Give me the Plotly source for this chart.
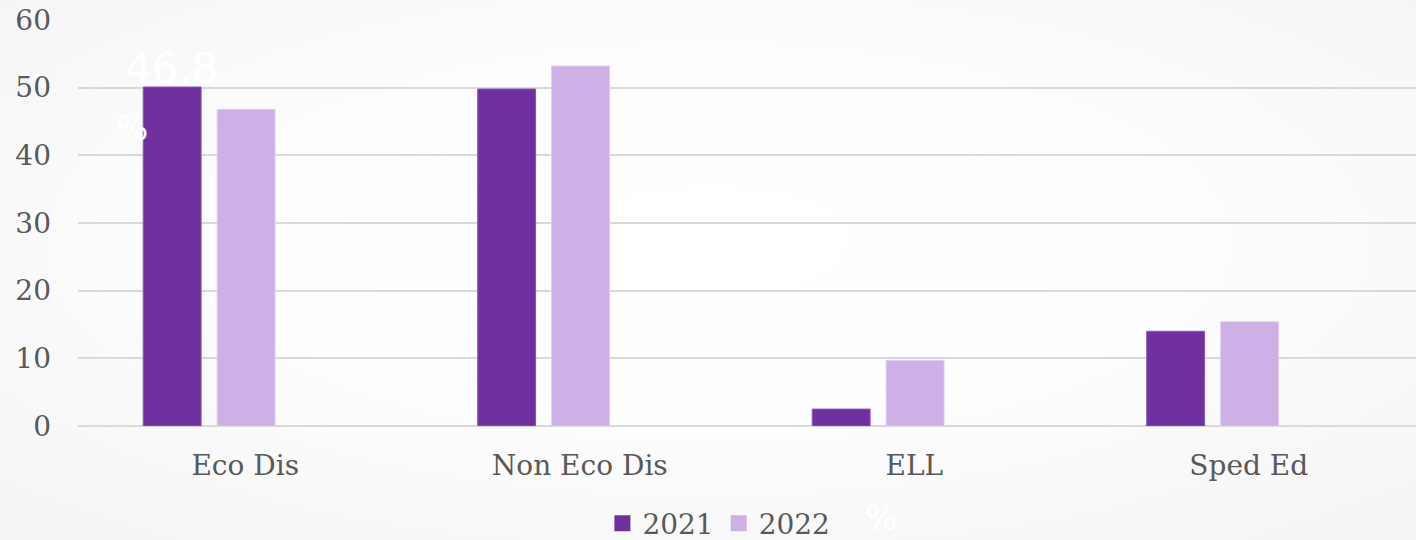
import base64
import plotly.graph_objects as go

# Student group shares (%) by year
categories = ["Eco Dis", "Non Eco Dis", "ELL", "Sped Ed"]
values_2021 = [50.1, 49.8, 2.5, 14.0]
values_2022 = [46.8, 53.2, 9.7, 15.4]
y_ticks = [0, 10, 20, 30, 40, 50, 60]

FONT = "DejaVu Serif"
TEXT_COLOR = "#595959"
COLOR_2021 = "#7030A0"
COLOR_2022 = "#CFB0E6"

# soft radial backdrop
svg = (
    '<svg xmlns="http://www.w3.org/2000/svg" width="1416" height="540">'
    '<defs><radialGradient id="g" cx="50%" cy="45%" r="75%">'
    '<stop offset="0%" stop-color="#ffffff"/>'
    '<stop offset="45%" stop-color="#fdfdfd"/>'
    '<stop offset="100%" stop-color="#f4f4f4"/>'
    '</radialGradient></defs>'
    '<rect width="1416" height="540" fill="url(#g)"/></svg>'
)
bg_src = "data:image/svg+xml;base64," + base64.b64encode(svg.encode()).decode()

fig = go.Figure()
fig.add_trace(go.Bar(
    x=categories, y=values_2021, name="2021", showlegend=False,
    marker=dict(color=COLOR_2021, line=dict(color="#8a55b8", width=1)),
    width=0.173, offset=-0.305,
))
fig.add_trace(go.Bar(
    x=categories, y=values_2022, name="2022", showlegend=False,
    marker=dict(color=COLOR_2022, line=dict(color="#e0ccf0", width=1)),
    width=0.173, offset=-0.084,
))
# legend keys with larger square swatches
for name, color in [("2021", COLOR_2021), ("2022", COLOR_2022)]:
    fig.add_trace(go.Scatter(
        x=[None], y=[None], mode="markers", name=name,
        marker=dict(symbol="square", size=16, color=color),
    ))

fig.update_layout(
    width=1416, height=540,
    margin=dict(l=78, r=0, t=20, b=114, autoexpand=False),
    paper_bgcolor="#f9f9f9",
    plot_bgcolor="rgba(0,0,0,0)",
    barmode="group",
    font=dict(family=FONT, color=TEXT_COLOR, size=28),
    images=[dict(source=bg_src, xref="paper", yref="paper", x=-78/1338, y=1+20/406,
                 sizex=1416/1338, sizey=540/406, xanchor="left", yanchor="top",
                 sizing="stretch", layer="below")],
    showlegend=True,
    legend=dict(orientation="h", x=0.479, xanchor="center", y=-0.240, yanchor="middle",
                yref="paper",
                font=dict(family=FONT, size=28, color=TEXT_COLOR),
                itemwidth=30, bgcolor="rgba(0,0,0,0)"),
    xaxis=dict(showgrid=False, showline=False, zeroline=False, ticks="",
               tickfont=dict(family=FONT, size=28, color=TEXT_COLOR),
               ticklabelstandoff=20),
    yaxis=dict(range=[0, 60], tickvals=y_ticks, showgrid=True, gridcolor="#d9d9d9",
               gridwidth=2, zeroline=True, zerolinecolor="#d9d9d9", zerolinewidth=2,
               showline=False, ticks="",
               tickfont=dict(family=FONT, size=28, color=TEXT_COLOR),
               ticklabelstandoff=26),
    annotations=[
        dict(text="46.8", x=-0.305 + 0.173 / 2, xref="x", y=52.9, yref="y", showarrow=False,
             font=dict(family="DejaVu Sans", size=42, color="#ffffff")),
        dict(text="%", x=-0.338, xref="x", y=44, yref="y", showarrow=False,
             font=dict(family="DejaVu Sans", size=34, color="#ffffff")),
        dict(text="%", x=0.600, xref="paper", y=-0.227, yref="paper", showarrow=False,
             yanchor="middle", xanchor="center",
             font=dict(family="DejaVu Sans", size=34, color="#ffffff")),
    ],
)

fig.write_html("out.html")
